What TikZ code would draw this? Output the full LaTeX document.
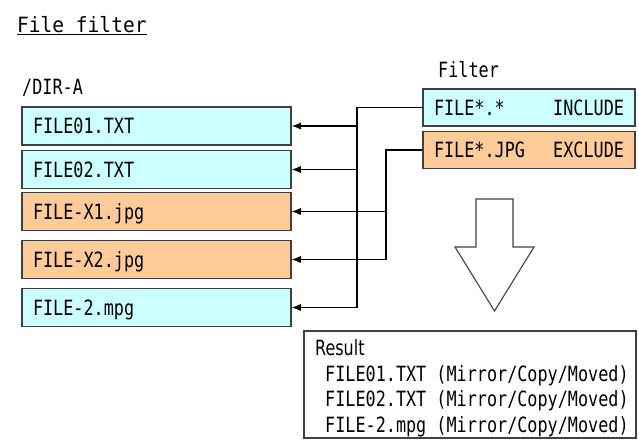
\documentclass[tikz,border=0pt]{standalone}
\usepackage{fontspec}
\usetikzlibrary{arrows.meta,positioning}
\newfontfamily\gothic[FakeStretch=0.8]{DejaVu Sans Mono}
\newfontfamily\gothicwide[FakeStretch=0.93]{DejaVu Sans Mono}
\newfontfamily\pgothic[FakeStretch=0.76]{DejaVu Sans}
\definecolor{inccyan}{RGB}{204,255,255}
\definecolor{excorange}{RGB}{255,204,153}
\definecolor{boxline}{RGB}{64,64,64}

\begin{document}
\begin{tikzpicture}[
  x=1pt, y=-1pt,
  >={Latex[length=9pt,width=7pt]},
  every node/.style={font=\gothic\fontsize{21}{25.5}\selectfont},
  label/.style={anchor=base west, inner sep=0pt},
  filebox/.style={draw=boxline, line width=1.5pt, text width=247pt, inner xsep=11pt,
    inner ysep=0pt, minimum height=38pt, text height=15pt, text depth=0pt, align=left},
  filterbox/.style={filebox, text width=190pt, minimum height=37pt},
  link/.style={->, line width=1.1pt}
]
\useasboundingbox (0,0) rectangle (639,440);

% title and headings
\node[label, font=\gothicwide\fontsize{21}{25.5}\selectfont] (title) at (17,32) {File filter};
\draw[line width=1.4pt] ([yshift=-2.5pt]title.base west) -- ([yshift=-2.5pt]title.base east);
\node[label] (dir) at (22,94) {/DIR-A};
\node[label] (filterlbl) at (438,77) {Filter};

% files in /DIR-A
\node[filebox, fill=inccyan] (f1) at (156.5,126) {FILE01.TXT};
\node[filebox, fill=inccyan, below=4pt of f1] (f2) {FILE02.TXT};
\node[filebox, fill=excorange, below=2.5pt of f2] (x1) {FILE-X1.jpg};
\node[filebox, fill=excorange, below=8.5pt of x1] (x2) {FILE-X2.jpg};
\node[filebox, fill=inccyan, below=8.5pt of x2] (f5) {FILE-2.mpg};

% filter rules
\node[filterbox, fill=inccyan] (inc) at (529,107.5) {FILE*.*\hfill INCLUDE};
\node[filterbox, fill=excorange, below=4pt of inc] (exc) {FILE*.JPG\hfill EXCLUDE};

\coordinate (incbus) at (357,0);
\coordinate (excbus) at (386,0);

\draw[link] (inc.west) -| (incbus |- f5.east) -- (f5.east);
\draw[link] (incbus |- f1.east) -- (f1.east);
\draw[link] (incbus |- f2.east) -- (f2.east);
\draw[link] (exc.west) -| (excbus |- x2.east) -- (x2.east);
\draw[link] (excbus |- x1.east) -- (x1.east);

% big arrow down to the result
\draw[boxline, line width=1.1pt, line join=miter]
  (476,199) -- (513,199) -- (513,247) -- (534,247) -- (494.5,311)
  -- (455,247) -- (476,247) -- cycle;

% result
\node[draw=boxline, line width=1.5pt, minimum width=332pt, minimum height=107pt,
  inner sep=0pt] (res) at (470,384.5) {};
\node[label, font=\pgothic\fontsize{21}{25.5}\selectfont] (restitle) at (315,355) {Result};
\node[label] (res1) at (325,381) {FILE01.TXT (Mirror/Copy/Moved)};
\node[label] (res2) at (325,406.5) {FILE02.TXT (Mirror/Copy/Moved)};
\node[label] (res3) at (325,432) {FILE-2.mpg (Mirror/Copy/Moved)};

\end{tikzpicture}
\end{document}
